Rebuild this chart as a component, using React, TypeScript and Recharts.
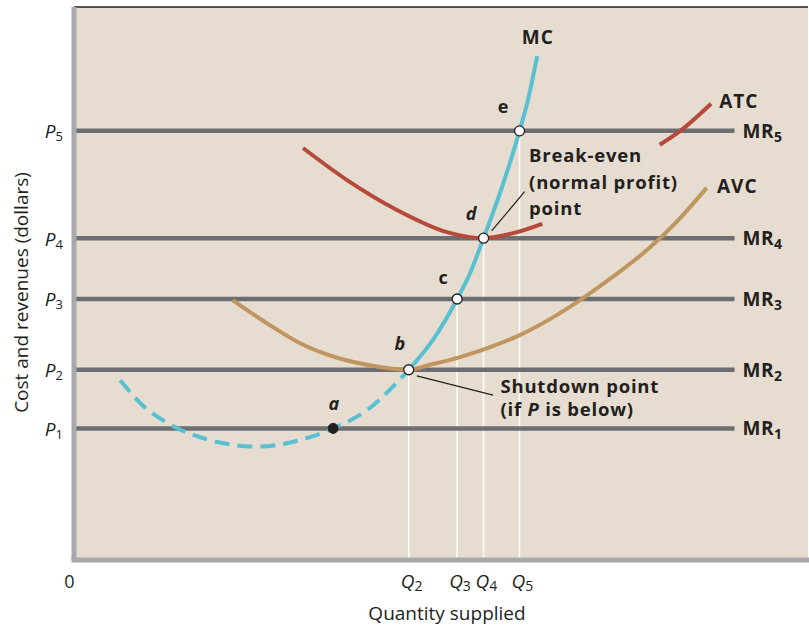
import React from 'react';
import {
  ComposedChart,
  Line,
  Scatter,
  XAxis,
  YAxis,
  CartesianGrid,
  ReferenceLine,
} from 'recharts';

const FONT = '"Open Sans", "DejaVu Sans", sans-serif';
const INK = '#231f20';
const BG = '#e6ddd0';
const AXIS_GRAY = '#a7a9ac';
const MR_GRAY = '#6d6e71';
const MC_COLOR = '#58c0d1';
const ATC_COLOR = '#b64a3a';
const AVC_COLOR = '#bf9660';

// price levels P1..P5 (= MR1..MR5)
const prices = [23.8, 34.4, 47.2, 58.2, 77.6];
// Q2..Q5, where MC crosses MR2..MR5
const quantities = [45.6, 52.2, 55.8, 60.7];
const mrEnd = 90;
const qPointA = 35.3;

// MC below the shutdown point (dashed)
const mcDashed = [
  { q: 6.3, p: 32.5 },
  { q: 9.4, p: 27.9 },
  { q: 12.7, p: 24.8 },
  { q: 17.2, p: 22.2 },
  { q: 25.1, p: 20.5 },
  { q: 30.8, p: 21.7 },
  { q: 35.3, p: 23.8 },
  { q: 39.9, p: 27.1 },
  { q: 45.6, p: 34.4 },
];

const mcSolid = [
  { q: 45.6, p: 34.4 },
  { q: 48.9, p: 39.8 },
  { q: 52.2, p: 47.2 },
  { q: 54.0, p: 52.0 },
  { q: 55.8, p: 58.2 },
  { q: 58.2, p: 67.0 },
  { q: 60.7, p: 77.6 },
  { q: 61.9, p: 83.5 },
  { q: 63.1, p: 91.1 },
];

// gap where the break-even note sits on top of the curve
const atc = [
  { q: 31.2, p: 74.5 },
  { q: 37.2, p: 68.7 },
  { q: 44.0, p: 63.3 },
  { q: 50.8, p: 59.3 },
  { q: 55.8, p: 58.2 },
  { q: 59.8, p: 59.1 },
  { q: 63.8, p: 60.8 },
  { q: 71.8, p: null },
  { q: 79.8, p: 75.1 },
  { q: 82.6, p: 77.6 },
  { q: 86.8, p: 82.5 },
];

const avc = [
  { q: 21.6, p: 47.0 },
  { q: 26.3, p: 42.8 },
  { q: 30.8, p: 39.2 },
  { q: 35.3, p: 36.8 },
  { q: 39.9, p: 35.3 },
  { q: 45.6, p: 34.4 },
  { q: 48.5, p: 35.3 },
  { q: 52.6, p: 36.7 },
  { q: 56.7, p: 38.5 },
  { q: 60.8, p: 40.7 },
  { q: 64.9, p: 43.6 },
  { q: 69.4, p: 47.4 },
  { q: 73.7, p: 51.5 },
  { q: 78.1, p: 56.1 },
  { q: 82.2, p: 61.3 },
  { q: 86.2, p: 67.3 },
];

const curveLabels = [
  { q: 61.0, p: 93.3, text: 'MC' },
  { q: 87.9, p: 81.7, text: 'ATC' },
  { q: 87.6, p: 66.4, text: 'AVC' },
];

const pointLetters = [
  { q: 35.4, p: 27.1, text: 'a' },
  { q: 44.4, p: 38.0, text: 'b' },
  { q: 50.3, p: 49.9, text: 'c' },
  { q: 54.1, p: 61.5, text: 'd' },
  { q: 58.45, p: 80.8, text: 'e' },
];
const italicLetters = ['a', 'b', 'd'];

const notes = [
  { q: 62.0, p: 72.0, text: 'Break-even' },
  { q: 62.0, p: 67.1, text: '(normal profit)' },
  { q: 62.0, p: 62.4, text: 'point' },
  { q: 58.1, p: 30.2, text: 'Shutdown point' },
  { q: 58.1, p: 26.0, text: '(if P is below)' },
];

const breakEvenLeader = [
  { q: 61.4, p: 66.6 },
  { q: 56.9, p: 59.5 },
];
const shutdownLeader = [
  { q: 46.7, p: 33.3 },
  { q: 57.1, p: 29.8 },
];

const pointsOpen = quantities.map((q, i) => ({ q, p: prices[i + 1] }));
const pointsFilled = [{ q: qPointA, p: prices[0] }];
const mrLabels = prices.map((p, i) => ({ q: mrEnd, p, n: i + 1 }));

const renderPTick = (props: any) => {
  const { x, y, payload } = props;
  const n = prices.indexOf(payload.value) + 1;
  return (
    <text x={x} y={y + 7.5} textAnchor="end" fontFamily={FONT} fontSize={19} fill={INK}>
      <tspan fontStyle="italic">P</tspan>
      <tspan fontSize={13} dy={3}>{n}</tspan>
    </text>
  );
};

const renderQTick = (props: any) => {
  const { x, y, payload } = props;
  if (payload.value === 0) {
    return (
      <text x={x - 4.5} y={y + 28} textAnchor="middle" fontFamily={FONT} fontSize={18} fill={INK}>
        0
      </text>
    );
  }
  const n = quantities.indexOf(payload.value) + 2;
  return (
    <text x={x - 8} y={y + 28} fontFamily={FONT} fontSize={19} fill={INK}>
      <tspan fontStyle="italic">Q</tspan>
      <tspan fontSize={14} dy={3}>{n}</tspan>
    </text>
  );
};

const renderXLabel = (props: any) => {
  const vb = props.viewBox || { x: 74, y: 560, width: 734, height: 67 };
  return (
    <text x={vb.x + vb.width / 2 + 6} y={vb.y + 60} textAnchor="middle" fontFamily={FONT} fontSize={19} fill={INK}>
      Quantity supplied
    </text>
  );
};

const renderYLabel = (props: any) => {
  const vb = props.viewBox || { x: 0, y: 7, width: 74, height: 553 };
  const cy = vb.y + vb.height / 2 + 9;
  return (
    <text
      transform={`translate(28, ${cy}) rotate(-90)`}
      textAnchor="middle"
      fontFamily={FONT}
      fontSize={19}
      fill={INK}
    >
      Cost and revenues (dollars)
    </text>
  );
};

const CurveLabel = (props: any) => {
  const { cx, cy, payload } = props;
  return (
    <text x={cx} y={cy} fontFamily={FONT} fontWeight={700} fontSize={19} letterSpacing={1} fill={INK}>
      {payload.text}
    </text>
  );
};

const LetterLabel = (props: any) => {
  const { cx, cy, payload } = props;
  return (
    <text
      x={cx}
      y={cy}
      textAnchor="middle"
      fontFamily={FONT}
      fontWeight={700}
      fontSize={18}
      fontStyle={italicLetters.includes(payload.text) ? 'italic' : 'normal'}
      fill={INK}
    >
      {payload.text}
    </text>
  );
};

const NoteLabel = (props: any) => {
  const { cx, cy, payload } = props;
  const parts = String(payload.text).split(/(\bP\b)/);
  return (
    <text x={cx} y={cy} fontFamily={FONT} fontWeight={700} fontSize={18.5} letterSpacing={0.8} fill={INK}>
      {parts.map((part: string, i: number) => (
        <tspan key={i} fontStyle={part === 'P' ? 'italic' : 'normal'}>
          {part}
        </tspan>
      ))}
    </text>
  );
};

const MRLabel = (props: any) => {
  const { cx, cy, payload } = props;
  return (
    <text x={cx + 8} y={cy + 7} fontFamily={FONT} fontWeight={700} fontSize={19} letterSpacing={0.5} fill={INK}>
      MR
      <tspan fontSize={14} dy={4}>{payload.n}</tspan>
    </text>
  );
};

const OpenDot = (props: any) => (
  <circle cx={props.cx} cy={props.cy} r={5} fill="#ffffff" stroke={INK} strokeWidth={1.3} />
);

const FilledDot = (props: any) => (
  <circle cx={props.cx} cy={props.cy} r={5} fill={INK} stroke={INK} strokeWidth={1} />
);

export default function App() {
  return (
    <div style={{ position: 'absolute', left: 0, top: 0, width: 809, height: 627, background: '#ffffff' }}>
      <ComposedChart width={809} height={627} margin={{ top: 7, right: 1, bottom: 0, left: 0 }}>
        <CartesianGrid horizontal={false} vertical={false} fill={BG} />
        <XAxis
          type="number"
          dataKey="q"
          domain={[0, 100]}
          ticks={[0, ...quantities]}
          interval={0}
          height={67}
          allowDataOverflow
          axisLine={{ stroke: AXIS_GRAY, strokeWidth: 5, strokeLinecap: 'square' }}
          tickLine={false}
          tickSize={0}
          tickMargin={0}
          tick={renderQTick}
          label={renderXLabel}
        />
        <YAxis
          type="number"
          domain={[0, 100]}
          ticks={prices}
          interval={0}
          width={74}
          allowDataOverflow
          axisLine={{ stroke: AXIS_GRAY, strokeWidth: 5 }}
          tickLine={false}
          tickSize={0}
          tickMargin={11}
          tick={renderPTick}
          label={renderYLabel}
        />
        <ReferenceLine y={100} stroke={INK} strokeWidth={1.5} />

        {pointsOpen.map((pt, i) => (
          <Line
            key={`v${i}`}
            data={[{ q: pt.q, p: 0 }, { q: pt.q, p: pt.p }]}
            dataKey="p"
            type="linear"
            stroke="#ffffff"
            strokeWidth={1.5}
            dot={false}
            activeDot={false}
            isAnimationActive={false}
          />
        ))}

        {prices.map((p, i) => (
          <Line
            key={`mr${i}`}
            data={[{ q: 0, p }, { q: mrEnd, p }]}
            dataKey="p"
            type="linear"
            stroke={MR_GRAY}
            strokeWidth={4.5}
            dot={false}
            activeDot={false}
            isAnimationActive={false}
          />
        ))}

        <Line data={avc} dataKey="p" type="monotone" stroke={AVC_COLOR} strokeWidth={4} dot={false} activeDot={false} isAnimationActive={false} />
        <Line data={atc} dataKey="p" type="monotone" stroke={ATC_COLOR} strokeWidth={4} dot={false} activeDot={false} isAnimationActive={false} />
        <Line data={mcDashed} dataKey="p" type="monotone" stroke={MC_COLOR} strokeWidth={4} strokeDasharray="15 8" dot={false} activeDot={false} isAnimationActive={false} />
        <Line data={mcSolid} dataKey="p" type="monotone" stroke={MC_COLOR} strokeWidth={4} dot={false} activeDot={false} isAnimationActive={false} />

        <Line data={breakEvenLeader} dataKey="p" type="linear" stroke={INK} strokeWidth={1.2} dot={false} activeDot={false} isAnimationActive={false} />
        <Line data={shutdownLeader} dataKey="p" type="linear" stroke={INK} strokeWidth={1.2} dot={false} activeDot={false} isAnimationActive={false} />

        <Scatter data={pointsOpen} dataKey="p" shape={OpenDot} isAnimationActive={false} />
        <Scatter data={pointsFilled} dataKey="p" shape={FilledDot} isAnimationActive={false} />
        <Scatter data={curveLabels} dataKey="p" shape={CurveLabel} isAnimationActive={false} />
        <Scatter data={pointLetters} dataKey="p" shape={LetterLabel} isAnimationActive={false} />
        <Scatter data={notes} dataKey="p" shape={NoteLabel} isAnimationActive={false} />
        <Scatter data={mrLabels} dataKey="p" shape={MRLabel} isAnimationActive={false} />
      </ComposedChart>
    </div>
  );
}
